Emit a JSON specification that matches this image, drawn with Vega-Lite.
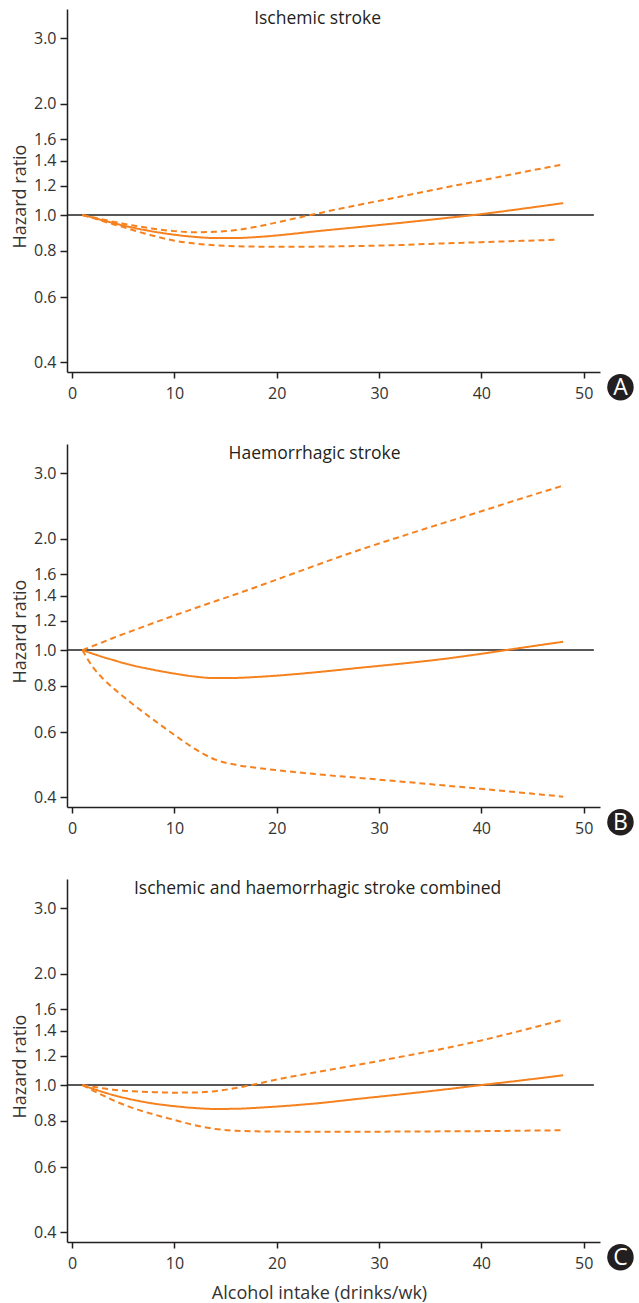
{
  "$schema": "https://vega.github.io/schema/vega-lite/v6.json",
  "padding": {"left": 11, "top": 9, "right": 5, "bottom": 5},
  "background": "white",
  "spacing": 72,
  "bounds": "flush",
  "config": {
    "view": {"stroke": null},
    "font": "Open Sans",
    "axis": {
      "grid": false,
      "domainColor": "#231f20",
      "domainWidth": 1.5,
      "tickColor": "#231f20",
      "tickWidth": 1.5,
      "labelFont": "Open Sans",
      "labelFontSize": 16,
      "labelColor": "#333333",
      "titleFont": "Open Sans",
      "titleFontSize": 18,
      "titleFontWeight": "normal",
      "titleColor": "#333333"
    },
    "axisY": {"tickSize": 7, "labelPadding": 4, "titlePadding": 4, "titleY": 187},
    "axisX": {"tickSize": 6, "labelPadding": 7, "titlePadding": 13, "titleX": 252}
  },
  "datasets": {
    "panels": [
      {"panel": "A", "title": "Ischemic stroke", "letter": "A"},
      {"panel": "B", "title": "Haemorrhagic stroke", "letter": "B"},
      {"panel": "C", "title": "Ischemic and haemorrhagic stroke combined", "letter": "C"}
    ],
    "curves": [
      {"panel":"A","band":"est","x":1,"hr":1.0},{"panel":"A","band":"est","x":2,"hr":0.985},{"panel":"A","band":"est","x":3,"hr":0.968},{"panel":"A","band":"est","x":4,"hr":0.952},{"panel":"A","band":"est","x":5,"hr":0.937},{"panel":"A","band":"est","x":6,"hr":0.924},{"panel":"A","band":"est","x":8,"hr":0.902},{"panel":"A","band":"est","x":10,"hr":0.885},{"panel":"A","band":"est","x":12,"hr":0.873},{"panel":"A","band":"est","x":14,"hr":0.867},{"panel":"A","band":"est","x":16,"hr":0.867},{"panel":"A","band":"est","x":18,"hr":0.872},{"panel":"A","band":"est","x":20,"hr":0.881},{"panel":"A","band":"est","x":24,"hr":0.905},{"panel":"A","band":"est","x":28,"hr":0.928},{"panel":"A","band":"est","x":32,"hr":0.952},{"panel":"A","band":"est","x":36,"hr":0.978},{"panel":"A","band":"est","x":40,"hr":1.006},{"panel":"A","band":"est","x":44,"hr":1.04},{"panel":"A","band":"est","x":48,"hr":1.077},
      {"panel":"A","band":"upper","x":1,"hr":1.0},{"panel":"A","band":"upper","x":2,"hr":0.987},{"panel":"A","band":"upper","x":3,"hr":0.973},{"panel":"A","band":"upper","x":4,"hr":0.96},{"panel":"A","band":"upper","x":5,"hr":0.948},{"panel":"A","band":"upper","x":6,"hr":0.937},{"panel":"A","band":"upper","x":8,"hr":0.918},{"panel":"A","band":"upper","x":10,"hr":0.905},{"panel":"A","band":"upper","x":12,"hr":0.899},{"panel":"A","band":"upper","x":14,"hr":0.901},{"panel":"A","band":"upper","x":16,"hr":0.911},{"panel":"A","band":"upper","x":18,"hr":0.93},{"panel":"A","band":"upper","x":20,"hr":0.955},{"panel":"A","band":"upper","x":24,"hr":1.01},{"panel":"A","band":"upper","x":28,"hr":1.065},{"panel":"A","band":"upper","x":32,"hr":1.12},{"panel":"A","band":"upper","x":36,"hr":1.18},{"panel":"A","band":"upper","x":40,"hr":1.24},{"panel":"A","band":"upper","x":44,"hr":1.305},{"panel":"A","band":"upper","x":48,"hr":1.37},
      {"panel":"A","band":"lower","x":1,"hr":1.0},{"panel":"A","band":"lower","x":2,"hr":0.983},{"panel":"A","band":"lower","x":3,"hr":0.963},{"panel":"A","band":"lower","x":4,"hr":0.945},{"panel":"A","band":"lower","x":5,"hr":0.928},{"panel":"A","band":"lower","x":6,"hr":0.91},{"panel":"A","band":"lower","x":8,"hr":0.878},{"panel":"A","band":"lower","x":10,"hr":0.853},{"panel":"A","band":"lower","x":12,"hr":0.838},{"panel":"A","band":"lower","x":14,"hr":0.829},{"panel":"A","band":"lower","x":16,"hr":0.824},{"panel":"A","band":"lower","x":18,"hr":0.822},{"panel":"A","band":"lower","x":20,"hr":0.821},{"panel":"A","band":"lower","x":24,"hr":0.822},{"panel":"A","band":"lower","x":28,"hr":0.825},{"panel":"A","band":"lower","x":32,"hr":0.83},{"panel":"A","band":"lower","x":36,"hr":0.838},{"panel":"A","band":"lower","x":40,"hr":0.845},{"panel":"A","band":"lower","x":44,"hr":0.852},{"panel":"A","band":"lower","x":47.5,"hr":0.858},
      {"panel":"B","band":"est","x":1,"hr":1.0},{"panel":"B","band":"est","x":2,"hr":0.978},{"panel":"B","band":"est","x":3,"hr":0.958},{"panel":"B","band":"est","x":4,"hr":0.94},{"panel":"B","band":"est","x":5,"hr":0.923},{"panel":"B","band":"est","x":6,"hr":0.908},{"panel":"B","band":"est","x":8,"hr":0.884},{"panel":"B","band":"est","x":10,"hr":0.864},{"panel":"B","band":"est","x":12,"hr":0.848},{"panel":"B","band":"est","x":14,"hr":0.840},{"panel":"B","band":"est","x":16,"hr":0.841},{"panel":"B","band":"est","x":18,"hr":0.846},{"panel":"B","band":"est","x":20,"hr":0.853},{"panel":"B","band":"est","x":24,"hr":0.872},{"panel":"B","band":"est","x":28,"hr":0.895},{"panel":"B","band":"est","x":32,"hr":0.918},{"panel":"B","band":"est","x":36,"hr":0.944},{"panel":"B","band":"est","x":40,"hr":0.977},{"panel":"B","band":"est","x":44,"hr":1.015},{"panel":"B","band":"est","x":48,"hr":1.053},
      {"panel":"B","band":"upper","x":1,"hr":1.0},{"panel":"B","band":"upper","x":2,"hr":1.025},{"panel":"B","band":"upper","x":3,"hr":1.05},{"panel":"B","band":"upper","x":4,"hr":1.078},{"panel":"B","band":"upper","x":5,"hr":1.104},{"panel":"B","band":"upper","x":6,"hr":1.13},{"panel":"B","band":"upper","x":8,"hr":1.185},{"panel":"B","band":"upper","x":10,"hr":1.24},{"panel":"B","band":"upper","x":12,"hr":1.297},{"panel":"B","band":"upper","x":14,"hr":1.355},{"panel":"B","band":"upper","x":16,"hr":1.415},{"panel":"B","band":"upper","x":18,"hr":1.48},{"panel":"B","band":"upper","x":20,"hr":1.55},{"panel":"B","band":"upper","x":24,"hr":1.7},{"panel":"B","band":"upper","x":28,"hr":1.86},{"panel":"B","band":"upper","x":32,"hr":2.02},{"panel":"B","band":"upper","x":36,"hr":2.19},{"panel":"B","band":"upper","x":40,"hr":2.37},{"panel":"B","band":"upper","x":44,"hr":2.57},{"panel":"B","band":"upper","x":48,"hr":2.78},
      {"panel":"B","band":"lower","x":1,"hr":1.0},{"panel":"B","band":"lower","x":2,"hr":0.902},{"panel":"B","band":"lower","x":3,"hr":0.838},{"panel":"B","band":"lower","x":4,"hr":0.79},{"panel":"B","band":"lower","x":5,"hr":0.749},{"panel":"B","band":"lower","x":6,"hr":0.712},{"panel":"B","band":"lower","x":8,"hr":0.647},{"panel":"B","band":"lower","x":10,"hr":0.59},{"panel":"B","band":"lower","x":12,"hr":0.541},{"panel":"B","band":"lower","x":14,"hr":0.506},{"panel":"B","band":"lower","x":16,"hr":0.49},{"panel":"B","band":"lower","x":18,"hr":0.481},{"panel":"B","band":"lower","x":20,"hr":0.474},{"panel":"B","band":"lower","x":24,"hr":0.462},{"panel":"B","band":"lower","x":28,"hr":0.452},{"panel":"B","band":"lower","x":32,"hr":0.442},{"panel":"B","band":"lower","x":36,"hr":0.432},{"panel":"B","band":"lower","x":40,"hr":0.422},{"panel":"B","band":"lower","x":44,"hr":0.412},{"panel":"B","band":"lower","x":48,"hr":0.402},
      {"panel":"C","band":"est","x":1,"hr":1.0},{"panel":"C","band":"est","x":2,"hr":0.978},{"panel":"C","band":"est","x":3,"hr":0.958},{"panel":"C","band":"est","x":4,"hr":0.94},{"panel":"C","band":"est","x":5,"hr":0.925},{"panel":"C","band":"est","x":6,"hr":0.912},{"panel":"C","band":"est","x":8,"hr":0.891},{"panel":"C","band":"est","x":10,"hr":0.877},{"panel":"C","band":"est","x":12,"hr":0.867},{"panel":"C","band":"est","x":14,"hr":0.862},{"panel":"C","band":"est","x":16,"hr":0.863},{"panel":"C","band":"est","x":18,"hr":0.868},{"panel":"C","band":"est","x":20,"hr":0.875},{"panel":"C","band":"est","x":24,"hr":0.893},{"panel":"C","band":"est","x":28,"hr":0.918},{"panel":"C","band":"est","x":32,"hr":0.943},{"panel":"C","band":"est","x":36,"hr":0.97},{"panel":"C","band":"est","x":40,"hr":1.0},{"panel":"C","band":"est","x":44,"hr":1.03},{"panel":"C","band":"est","x":48,"hr":1.063},
      {"panel":"C","band":"upper","x":1,"hr":1.0},{"panel":"C","band":"upper","x":2,"hr":0.99},{"panel":"C","band":"upper","x":3,"hr":0.98},{"panel":"C","band":"upper","x":4,"hr":0.972},{"panel":"C","band":"upper","x":5,"hr":0.966},{"panel":"C","band":"upper","x":6,"hr":0.962},{"panel":"C","band":"upper","x":8,"hr":0.957},{"panel":"C","band":"upper","x":10,"hr":0.954},{"panel":"C","band":"upper","x":12,"hr":0.955},{"panel":"C","band":"upper","x":14,"hr":0.963},{"panel":"C","band":"upper","x":16,"hr":0.982},{"panel":"C","band":"upper","x":18,"hr":1.007},{"panel":"C","band":"upper","x":20,"hr":1.035},{"panel":"C","band":"upper","x":24,"hr":1.085},{"panel":"C","band":"upper","x":28,"hr":1.135},{"panel":"C","band":"upper","x":32,"hr":1.19},{"panel":"C","band":"upper","x":36,"hr":1.25},{"panel":"C","band":"upper","x":40,"hr":1.32},{"panel":"C","band":"upper","x":44,"hr":1.405},{"panel":"C","band":"upper","x":48,"hr":1.5},
      {"panel":"C","band":"lower","x":1,"hr":1.0},{"panel":"C","band":"lower","x":2,"hr":0.968},{"panel":"C","band":"lower","x":3,"hr":0.938},{"panel":"C","band":"lower","x":4,"hr":0.91},{"panel":"C","band":"lower","x":5,"hr":0.886},{"panel":"C","band":"lower","x":6,"hr":0.866},{"panel":"C","band":"lower","x":8,"hr":0.833},{"panel":"C","band":"lower","x":10,"hr":0.805},{"panel":"C","band":"lower","x":12,"hr":0.779},{"panel":"C","band":"lower","x":14,"hr":0.761},{"panel":"C","band":"lower","x":16,"hr":0.753},{"panel":"C","band":"lower","x":18,"hr":0.75},{"panel":"C","band":"lower","x":20,"hr":0.749},{"panel":"C","band":"lower","x":24,"hr":0.748},{"panel":"C","band":"lower","x":28,"hr":0.748},{"panel":"C","band":"lower","x":32,"hr":0.749},{"panel":"C","band":"lower","x":36,"hr":0.75},{"panel":"C","band":"lower","x":40,"hr":0.751},{"panel":"C","band":"lower","x":44,"hr":0.753},{"panel":"C","band":"lower","x":48,"hr":0.755}
    ]
  },
  "vconcat": [
    {
      "width": 533, "height": 363,
      "layer": [
        {
          "data": {"name": "panels"},
          "transform": [{"filter": "datum.panel == 'A'"}],
          "mark": {"type": "rule", "color": "#231f20", "strokeWidth": 1.5},
          "encoding": {"x": {"datum": -0.5, "type": "quantitative"}, "x2": {"datum": 51}, "y": {"datum": 1, "type": "quantitative"}}
        },
        {
          "data": {"name": "curves"},
          "transform": [{"filter": "datum.panel == 'A'"}],
          "mark": {"type": "line", "interpolate": "monotone", "color": "#f5821f", "strokeWidth": 2},
          "encoding": {
            "x": {"field": "x", "type": "quantitative", "scale": {"domain": [-0.5, 51.6], "nice": false, "zero": false}, "axis": {"values": [0, 10, 20, 30, 40, 50], "title": null}},
            "y": {"field": "hr", "type": "quantitative", "scale": {"type": "log", "domain": [0.377, 3.6], "nice": false}, "axis": {"values": [0.4, 0.6, 0.8, 1, 1.2, 1.4, 1.6, 2, 3], "format": ".1f", "title": "Hazard ratio"}},
            "detail": {"field": "band"},
            "strokeDash": {"field": "band", "type": "nominal", "scale": {"domain": ["est", "lower", "upper"], "range": [[1, 0], [6, 4], [6, 4]]}, "legend": null}
          }
        },
        {
          "data": {"name": "panels"},
          "transform": [{"filter": "datum.panel == 'A'"}],
          "mark": {"type": "text", "fontSize": 17.5, "color": "#231f20", "align": "center", "baseline": "middle"},
          "encoding": {"x": {"datum": 24, "type": "quantitative"}, "y": {"datum": 3.39, "type": "quantitative"}, "text": {"field": "title"}}
        },
        {
          "data": {"name": "panels"},
          "transform": [{"filter": "datum.panel == 'A'"}],
          "mark": {"type": "point", "shape": "circle", "filled": true, "color": "#231f20", "opacity": 1, "size": 700},
          "encoding": {"x": {"datum": 53.6, "type": "quantitative"}, "y": {"datum": 0.343, "type": "quantitative"}}
        },
        {
          "data": {"name": "panels"},
          "transform": [{"filter": "datum.panel == 'A'"}],
          "mark": {"type": "text", "fontSize": 23, "color": "white", "align": "center", "baseline": "middle", "dy": 1},
          "encoding": {"x": {"datum": 53.6, "type": "quantitative"}, "y": {"datum": 0.343, "type": "quantitative"}, "text": {"field": "letter"}}
        }
      ]
    },
    {
      "width": 533, "height": 363,
      "layer": [
        {
          "data": {"name": "panels"},
          "transform": [{"filter": "datum.panel == 'B'"}],
          "mark": {"type": "rule", "color": "#231f20", "strokeWidth": 1.5},
          "encoding": {"x": {"datum": -0.5, "type": "quantitative"}, "x2": {"datum": 51}, "y": {"datum": 1, "type": "quantitative"}}
        },
        {
          "data": {"name": "curves"},
          "transform": [{"filter": "datum.panel == 'B'"}],
          "mark": {"type": "line", "interpolate": "monotone", "color": "#f5821f", "strokeWidth": 2},
          "encoding": {
            "x": {"field": "x", "type": "quantitative", "scale": {"domain": [-0.5, 51.6], "nice": false, "zero": false}, "axis": {"values": [0, 10, 20, 30, 40, 50], "title": null}},
            "y": {"field": "hr", "type": "quantitative", "scale": {"type": "log", "domain": [0.377, 3.6], "nice": false}, "axis": {"values": [0.4, 0.6, 0.8, 1, 1.2, 1.4, 1.6, 2, 3], "format": ".1f", "title": "Hazard ratio"}},
            "detail": {"field": "band"},
            "strokeDash": {"field": "band", "type": "nominal", "scale": {"domain": ["est", "lower", "upper"], "range": [[1, 0], [6, 4], [6, 4]]}, "legend": null}
          }
        },
        {
          "data": {"name": "panels"},
          "transform": [{"filter": "datum.panel == 'B'"}],
          "mark": {"type": "text", "fontSize": 17.5, "color": "#231f20", "align": "center", "baseline": "middle"},
          "encoding": {"x": {"datum": 23.7, "type": "quantitative"}, "y": {"datum": 3.39, "type": "quantitative"}, "text": {"field": "title"}}
        },
        {
          "data": {"name": "panels"},
          "transform": [{"filter": "datum.panel == 'B'"}],
          "mark": {"type": "point", "shape": "circle", "filled": true, "color": "#231f20", "opacity": 1, "size": 700},
          "encoding": {"x": {"datum": 53.6, "type": "quantitative"}, "y": {"datum": 0.343, "type": "quantitative"}}
        },
        {
          "data": {"name": "panels"},
          "transform": [{"filter": "datum.panel == 'B'"}],
          "mark": {"type": "text", "fontSize": 23, "color": "white", "align": "center", "baseline": "middle", "dy": 1},
          "encoding": {"x": {"datum": 53.6, "type": "quantitative"}, "y": {"datum": 0.343, "type": "quantitative"}, "text": {"field": "letter"}}
        }
      ]
    },
    {
      "width": 533, "height": 363,
      "layer": [
        {
          "data": {"name": "panels"},
          "transform": [{"filter": "datum.panel == 'C'"}],
          "mark": {"type": "rule", "color": "#231f20", "strokeWidth": 1.5},
          "encoding": {"x": {"datum": -0.5, "type": "quantitative"}, "x2": {"datum": 51}, "y": {"datum": 1, "type": "quantitative"}}
        },
        {
          "data": {"name": "curves"},
          "transform": [{"filter": "datum.panel == 'C'"}],
          "mark": {"type": "line", "interpolate": "monotone", "color": "#f5821f", "strokeWidth": 2},
          "encoding": {
            "x": {"field": "x", "type": "quantitative", "scale": {"domain": [-0.5, 51.6], "nice": false, "zero": false}, "axis": {"values": [0, 10, 20, 30, 40, 50], "title": "Alcohol intake (drinks/wk)"}},
            "y": {"field": "hr", "type": "quantitative", "scale": {"type": "log", "domain": [0.377, 3.6], "nice": false}, "axis": {"values": [0.4, 0.6, 0.8, 1, 1.2, 1.4, 1.6, 2, 3], "format": ".1f", "title": "Hazard ratio"}},
            "detail": {"field": "band"},
            "strokeDash": {"field": "band", "type": "nominal", "scale": {"domain": ["est", "lower", "upper"], "range": [[1, 0], [6, 4], [6, 4]]}, "legend": null}
          }
        },
        {
          "data": {"name": "panels"},
          "transform": [{"filter": "datum.panel == 'C'"}],
          "mark": {"type": "text", "fontSize": 17.5, "color": "#231f20", "align": "center", "baseline": "middle"},
          "encoding": {"x": {"datum": 24, "type": "quantitative"}, "y": {"datum": 3.39, "type": "quantitative"}, "text": {"field": "title"}}
        },
        {
          "data": {"name": "panels"},
          "transform": [{"filter": "datum.panel == 'C'"}],
          "mark": {"type": "point", "shape": "circle", "filled": true, "color": "#231f20", "opacity": 1, "size": 700},
          "encoding": {"x": {"datum": 53.6, "type": "quantitative"}, "y": {"datum": 0.343, "type": "quantitative"}}
        },
        {
          "data": {"name": "panels"},
          "transform": [{"filter": "datum.panel == 'C'"}],
          "mark": {"type": "text", "fontSize": 23, "color": "white", "align": "center", "baseline": "middle", "dy": 1},
          "encoding": {"x": {"datum": 53.6, "type": "quantitative"}, "y": {"datum": 0.343, "type": "quantitative"}, "text": {"field": "letter"}}
        }
      ]
    }
  ]
}
